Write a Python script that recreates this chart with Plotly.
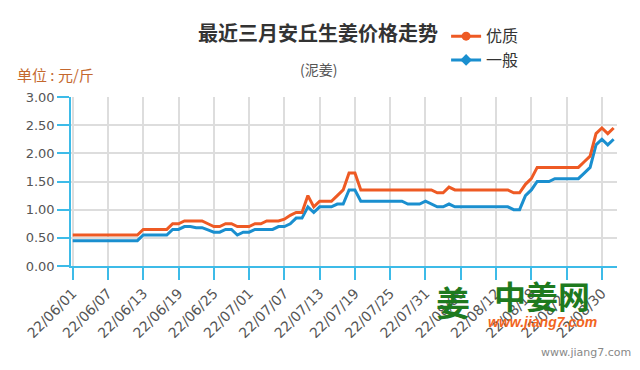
import pandas as pd
import plotly.graph_objects as go

# Categories: daily dates 2022-06-01 .. 2022-09-01
dates = [d.strftime("%y/%m/%d") for d in pd.date_range("2022-06-01", "2022-09-01", freq="D")]
tick_labels = dates[0:91:6]

# 优质 (premium) price, yuan/jin
youzhi = [0.55, 0.55, 0.55, 0.55, 0.55, 0.55, 0.55, 0.55, 0.55, 0.55, 0.55, 0.55,
          0.65, 0.65, 0.65, 0.65, 0.65,
          0.75, 0.75,
          0.80, 0.80, 0.80, 0.80,
          0.75,
          0.70, 0.70,
          0.75, 0.75,
          0.70, 0.70, 0.70,
          0.75, 0.75,
          0.80, 0.80, 0.80,
          0.83,
          0.90,
          0.95, 0.95,
          1.25,
          1.05,
          1.15, 1.15, 1.15,
          1.25,
          1.35,
          1.65, 1.65,
          1.35, 1.35, 1.35, 1.35, 1.35, 1.35, 1.35, 1.35, 1.35, 1.35, 1.35, 1.35, 1.35,
          1.30, 1.30,
          1.40,
          1.35, 1.35, 1.35, 1.35, 1.35, 1.35, 1.35, 1.35, 1.35, 1.35,
          1.30, 1.30,
          1.45,
          1.55,
          1.75, 1.75, 1.75, 1.75, 1.75, 1.75, 1.75, 1.75,
          1.85,
          1.95,
          2.35,
          2.45,
          2.35,
          2.45]

# 一般 (ordinary) price, yuan/jin
yiban = [0.45, 0.45, 0.45, 0.45, 0.45, 0.45, 0.45, 0.45, 0.45, 0.45, 0.45, 0.45,
         0.55, 0.55, 0.55, 0.55, 0.55,
         0.65, 0.65,
         0.70, 0.70,
         0.68, 0.68,
         0.64,
         0.60, 0.60,
         0.65, 0.65,
         0.55,
         0.60, 0.60,
         0.65, 0.65, 0.65, 0.65,
         0.70, 0.70,
         0.75,
         0.85, 0.85,
         1.05,
         0.95,
         1.05, 1.05, 1.05,
         1.10, 1.10,
         1.35, 1.35,
         1.15, 1.15, 1.15, 1.15, 1.15, 1.15, 1.15, 1.15,
         1.10, 1.10, 1.10,
         1.15,
         1.10,
         1.05, 1.05,
         1.10,
         1.05, 1.05, 1.05, 1.05, 1.05, 1.05, 1.05, 1.05, 1.05, 1.05,
         1.00, 1.00,
         1.25,
         1.35,
         1.50, 1.50, 1.50,
         1.55, 1.55, 1.55, 1.55, 1.55,
         1.65,
         1.75,
         2.15,
         2.25,
         2.15,
         2.25]

ORANGE = "#ee5a24"
BLUE = "#1a8fcf"
AXIS = "#3dbbe8"
CJK = "Noto Sans CJK SC"

fig = go.Figure()
fig.add_trace(go.Scatter(x=dates, y=yiban, mode="lines", line=dict(color=BLUE, width=3),
                         showlegend=False, name="一般"))
fig.add_trace(go.Scatter(x=dates, y=youzhi, mode="lines", line=dict(color=ORANGE, width=3),
                         showlegend=False, name="优质"))
# legend entries
fig.add_trace(go.Scatter(x=[None], y=[None], mode="lines+markers", name="优质",
                         line=dict(color=ORANGE, width=3),
                         marker=dict(symbol="circle", size=9, color=ORANGE)))
fig.add_trace(go.Scatter(x=[None], y=[None], mode="lines+markers", name="一般",
                         line=dict(color=BLUE, width=3),
                         marker=dict(symbol="diamond", size=9, color=BLUE)))

# page body has an 8px default margin, so offset the plot margins by 8px
fig.update_layout(
    width=640, height=370,
    margin=dict(l=63, r=31, t=89, b=112, autoexpand=False),
    paper_bgcolor="white", plot_bgcolor="white",
    legend=dict(x=0.687, y=1.46, xanchor="left", yanchor="top",
                font=dict(family=CJK, size=16, color="#333333"),
                bgcolor="rgba(0,0,0,0)", tracegroupgap=0, itemwidth=30),
    hovermode=False,
)

fig.update_xaxes(
    type="category", range=[-0.29, 92.57], automargin=False,
    tickmode="array", tickvals=tick_labels, ticktext=tick_labels,
    tickangle=-45, tickfont=dict(family="DejaVu Sans", size=14, color="#555555"),
    showline=True, linecolor=AXIS, linewidth=1.5,
    ticks="outside", ticklen=12, tickcolor=AXIS, tickwidth=1.5,
    showgrid=True, gridcolor="#dddddd", gridwidth=1.5, zeroline=False,
)
fig.update_yaxes(
    range=[0, 3], dtick=0.5, tickformat=".2f", automargin=False,
    tickfont=dict(family="DejaVu Sans", size=13, color="#555555"),
    showline=True, linecolor=AXIS, linewidth=1.5,
    ticks="outside", ticklen=12, tickcolor=AXIS, tickwidth=1.5,
    showgrid=True, gridcolor="#dddddd", gridwidth=1.5, zeroline=False,
)

annotations = [
    dict(text="<b>最近三月安丘生姜价格走势</b>", x=0.453, y=1.379, xref="paper", yref="paper",
         xanchor="center", yanchor="middle", showarrow=False,
         font=dict(family=CJK, size=20, color="#333333")),
    dict(text="(泥姜)", x=0.453, y=1.163, xref="paper", yref="paper",
         xanchor="center", yanchor="middle", showarrow=False,
         font=dict(family=CJK, size=14, color="#555555")),
    dict(text="单位 : 元/斤", x=-0.103, y=1.136, xref="paper", yref="paper",
         xanchor="left", yanchor="middle", showarrow=False,
         font=dict(family=CJK, size=15, color="#c4682e")),
    dict(text="<b>姜</b>", x=0.70, y=-0.21, xref="paper", yref="paper",
         xanchor="center", yanchor="middle", showarrow=False,
         font=dict(family=CJK, size=34, color="#1e7a1e")),
    dict(text="<b>中姜网</b>", x=0.863, y=-0.172, xref="paper", yref="paper",
         xanchor="center", yanchor="middle", showarrow=False,
         font=dict(family=CJK, size=32, color="#1e7a1e")),
    dict(text="<b><i>www.jiang7.com</i></b>", x=0.863, y=-0.331, xref="paper", yref="paper",
         xanchor="center", yanchor="middle", showarrow=False,
         font=dict(family="Liberation Sans", size=14, color="#f26522")),
    dict(text="www.jiang7.com", x=1.03, y=-0.51, xref="paper", yref="paper",
         xanchor="right", yanchor="middle", showarrow=False,
         font=dict(family="DejaVu Sans", size=11, color="#888888")),
]
fig.update_layout(annotations=annotations)

fig.write_html("out.html")
